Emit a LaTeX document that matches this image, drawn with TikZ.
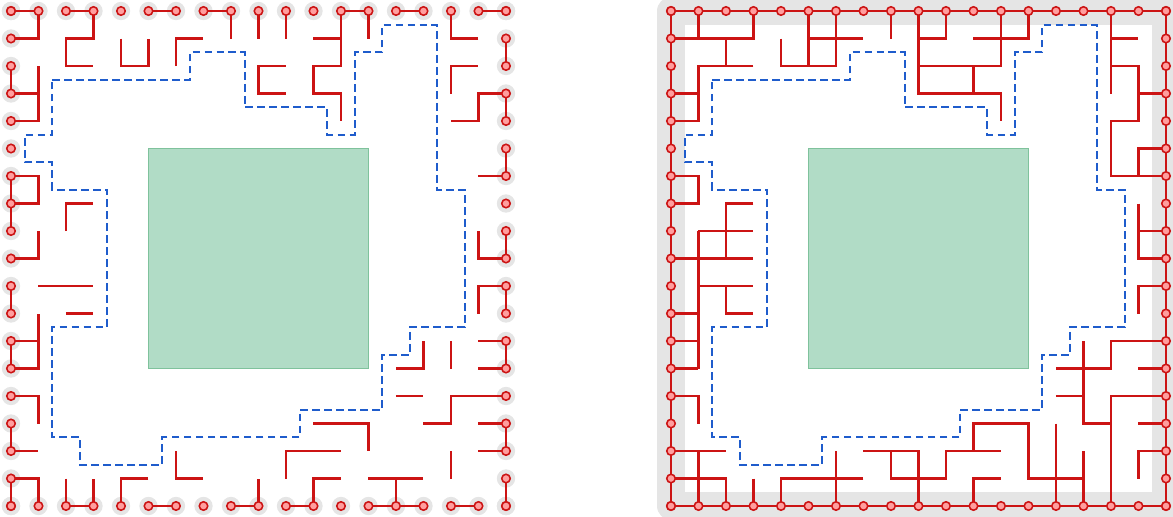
\documentclass[tikz,border=0pt]{standalone}
\usepackage{xcolor}
\usepackage{tikz}

\definecolor{wallred}{HTML}{CC1414}
\definecolor{pinfill}{HTML}{FF9E9E}
\definecolor{shadegrey}{HTML}{E5E5E5}
\definecolor{pathblue}{HTML}{1F5CCC}
\definecolor{corefill}{HTML}{B1DCC6}
\definecolor{coreline}{HTML}{7FC29C}

\begin{document}
\begin{tikzpicture}[
    x=0.5cm, y=-0.5cm,
    wall/.style={draw=wallred, line width=1.1pt},
    pin/.style={circle, draw=wallred, fill=pinfill, line width=0.8pt, minimum size=4.4pt, inner sep=0pt},
    halo/.style={circle, fill=shadegrey, minimum size=9.5pt, inner sep=0pt},
    band/.style={draw=shadegrey, line width=0.5cm, line join=round},
    core/.style={draw=coreline, fill=corefill, line width=0.5pt},
    contour/.style={draw=pathblue, line width=1pt, dash pattern=on 4pt off 2.2pt}
]
    \useasboundingbox (-0.4,-0.4) rectangle (42.255,18.364);

    % grey under the border pins
    \foreach \k in {0,...,18} {
        \node[halo] (h-t-\k) at (\k,0) {};
        \node[halo] (h-b-\k) at (\k,18) {};
        \node[halo] (h-l-\k) at (0,\k) {};
        \node[halo] (h-r-\k) at (18,\k) {};
    }
    \draw[band] (24,0) rectangle (42,18);

    % obstacle and its contour, both panels
    \foreach \dx in {0,24} {
        \begin{scope}[shift={(\dx,0)}]
            \draw[core] (5,5) rectangle (13,13);
            \draw[contour] (1.5,2.5) -- (6.5,2.5) -- (6.5,1.5) -- (8.5,1.5) -- (8.5,3.5) -- (11.5,3.5)
                -- (11.5,4.5) -- (12.5,4.5) -- (12.5,1.5) -- (13.5,1.5) -- (13.5,0.5) -- (15.5,0.5)
                -- (15.5,6.5) -- (16.5,6.5) -- (16.5,11.5) -- (14.5,11.5) -- (14.5,12.5) -- (13.5,12.5)
                -- (13.5,14.5) -- (10.5,14.5) -- (10.5,15.5) -- (5.5,15.5) -- (5.5,16.5) -- (2.5,16.5)
                -- (2.5,15.5) -- (1.5,15.5) -- (1.5,11.5) -- (3.5,11.5) -- (3.5,6.5) -- (1.5,6.5)
                -- (1.5,5.5) -- (0.5,5.5) -- (0.5,4.5) -- (1.5,4.5) -- cycle;
        \end{scope}
    }

    % left panel
    \draw[wall] (0,0) -- (1,0);
    \draw[wall] (0,1) -- (1,1) -- (1,0);
    \draw[wall] (2,0) -- (3,0);
    \draw[wall] (3,0) -- (3,1) -- (2,1) -- (2,2) -- (3,2);
    \draw[wall] (4,1) -- (4,2) -- (5,2) -- (5,1);
    \draw[wall] (5,0) -- (6,0);
    \draw[wall] (6,2) -- (6,1) -- (7,1);
    \draw[wall] (7,0) -- (8,0) -- (8,1);
    \draw[wall] (9,0) -- (9,1);
    \draw[wall] (10,0) -- (10,1);
    \draw[wall] (10,2) -- (9,2) -- (9,3) -- (10,3);
    \draw[wall] (11,1) -- (12,1);
    \draw[wall] (13,1) -- (13,0) -- (12,0) -- (12,2) -- (11,2) -- (11,3) -- (12,3) -- (12,4);
    \draw[wall] (14,0) -- (15,0);
    \draw[wall] (17,1) -- (16,1) -- (16,0);
    \draw[wall] (17,0) -- (18,0);
    \draw[wall] (16,3) -- (16,2) -- (17,2);
    \draw[wall] (18,1) -- (18,2);
    \draw[wall] (18,4) -- (18,3) -- (17,3) -- (17,4) -- (16,4);
    \draw[wall] (18,5) -- (18,6) -- (17,6);
    \draw[wall] (17,8) -- (17,9) -- (18,9) -- (18,8);
    \draw[wall] (17,11) -- (17,10) -- (18,10) -- (18,11);
    \draw[wall] (17,12) -- (18,12) -- (18,13) -- (17,13);
    \draw[wall] (15,12) -- (15,13) -- (14,13);
    \draw[wall] (16,12) -- (16,13);
    \draw[wall] (14,14) -- (15,14);
    \draw[wall] (18,14) -- (16,14) -- (16,15) -- (15,15);
    \draw[wall] (17,15) -- (18,15) -- (18,16) -- (17,16);
    \draw[wall] (11,15) -- (13,15) -- (13,16);
    \draw[wall] (10,17) -- (10,16) -- (12,16);
    \draw[wall] (10,18) -- (11,18) -- (11,17) -- (12,17);
    \draw[wall] (13,17) -- (15,17);
    \draw[wall] (13,18) -- (15,18);
    \draw[wall] (14,17) -- (14,18);
    \draw[wall] (16,16) -- (16,17);
    \draw[wall] (16,18) -- (17,18);
    \draw[wall] (18,17) -- (18,18);
    \draw[wall] (8,18) -- (9,18) -- (9,17);
    \draw[wall] (6,16) -- (6,17) -- (7,17);
    \draw[wall] (5,18) -- (6,18);
    \draw[wall] (5,17) -- (4,17) -- (4,18);
    \draw[wall] (2,17) -- (2,18) -- (3,18) -- (3,17);
    \draw[wall] (1,18) -- (1,17) -- (0,17) -- (0,18);
    \draw[wall] (0,15) -- (0,16) -- (1,16);
    \draw[wall] (0,14) -- (1,14) -- (1,15);
    \draw[wall] (0,13) -- (0,12) -- (1,12);
    \draw[wall] (0,13) -- (1,13) -- (1,11);
    \draw[wall] (0,10) -- (0,11);
    \draw[wall] (1,10) -- (3,10);
    \draw[wall] (2,11) -- (3,11);
    \draw[wall] (1,8) -- (1,9) -- (0,9);
    \draw[wall] (2,8) -- (2,7) -- (3,7);
    \draw[wall] (0,8) -- (0,6) -- (1,6) -- (1,7) -- (0,7);
    \draw[wall] (0,2) -- (0,3) -- (1,3);
    \draw[wall] (1,2) -- (1,4) -- (0,4);

    % right panel
    \begin{scope}[shift={(24,0)}]
        \draw[wall] (0,0) rectangle (18,18);
        \draw[wall] (1,0) -- (1,1);
        \draw[wall] (0,1) -- (3,1) -- (3,0);
        \draw[wall] (2,1) -- (2,2);
        \draw[wall] (3,2) -- (1,2) -- (1,4) -- (0,4);
        \draw[wall] (0,3) -- (1,3);
        \draw[wall] (4,1) -- (4,2) -- (6,2) -- (6,0);
        \draw[wall] (5,0) -- (5,2);
        \draw[wall] (5,1) -- (7,1);
        \draw[wall] (8,0) -- (8,1);
        \draw[wall] (9,0) -- (9,3) -- (12,3) -- (12,4);
        \draw[wall] (9,1) -- (10,1) -- (10,0);
        \draw[wall] (9,2) -- (12,2) -- (12,0);
        \draw[wall] (11,2) -- (11,3);
        \draw[wall] (11,1) -- (13,1) -- (13,0);
        \draw[wall] (16,0) -- (16,3);
        \draw[wall] (16,1) -- (17,1);
        \draw[wall] (16,2) -- (17,2) -- (17,4) -- (16,4) -- (16,6) -- (18,6);
        \draw[wall] (17,3) -- (18,3);
        \draw[wall] (18,5) -- (17,5) -- (17,6);
        \draw[wall] (17,7) -- (17,9) -- (18,9);
        \draw[wall] (17,8) -- (18,8);
        \draw[wall] (18,10) -- (17,10) -- (17,11);
        \draw[wall] (18,12) -- (16,12) -- (16,13) -- (14,13);
        \draw[wall] (15,12) -- (15,15) -- (16,15);
        \draw[wall] (14,14) -- (15,14);
        \draw[wall] (18,14) -- (16,14) -- (16,18);
        \draw[wall] (17,13) -- (18,13);
        \draw[wall] (17,15) -- (18,15);
        \draw[wall] (18,16) -- (17,16) -- (17,17);
        \draw[wall] (14,15) -- (14,18);
        \draw[wall] (15,16) -- (15,18);
        \draw[wall] (11,16) -- (11,15) -- (13,15) -- (13,17) -- (15,17);
        \draw[wall] (7,16) -- (9,16) -- (9,18);
        \draw[wall] (8,16) -- (8,17) -- (10,17) -- (10,16) -- (12,16);
        \draw[wall] (11,18) -- (11,17) -- (12,17);
        \draw[wall] (7,17) -- (4,17) -- (4,18);
        \draw[wall] (6,16) -- (6,18);
        \draw[wall] (3,17) -- (3,18);
        \draw[wall] (0,17) -- (2,17) -- (2,18);
        \draw[wall] (0,16) -- (2,16);
        \draw[wall] (1,16) -- (1,18);
        \draw[wall] (0,14) -- (1,14) -- (1,15);
        \draw[wall] (1,8) -- (1,13);
        \draw[wall] (0,11) -- (1,11);
        \draw[wall] (0,12) -- (1,12);
        \draw[wall] (0,13) -- (1,13);
        \draw[wall] (1,10) -- (3,10);
        \draw[wall] (2,10) -- (2,11) -- (3,11);
        \draw[wall] (0,9) -- (3,9);
        \draw[wall] (1,8) -- (3,8);
        \draw[wall] (3,7) -- (2,7) -- (2,9);
        \draw[wall] (0,6) -- (1,6) -- (1,7) -- (0,7);
    \end{scope}

    % border pins
    \foreach \dx/\s in {0/l,24/r} {
        \foreach \k in {0,...,18} {
            \node[pin] (\s-t-\k) at (\dx+\k,0) {};
            \node[pin] (\s-b-\k) at (\dx+\k,18) {};
            \node[pin] (\s-l-\k) at (\dx,\k) {};
            \node[pin] (\s-r-\k) at (\dx+18,\k) {};
        }
    }
\end{tikzpicture}
\end{document}
